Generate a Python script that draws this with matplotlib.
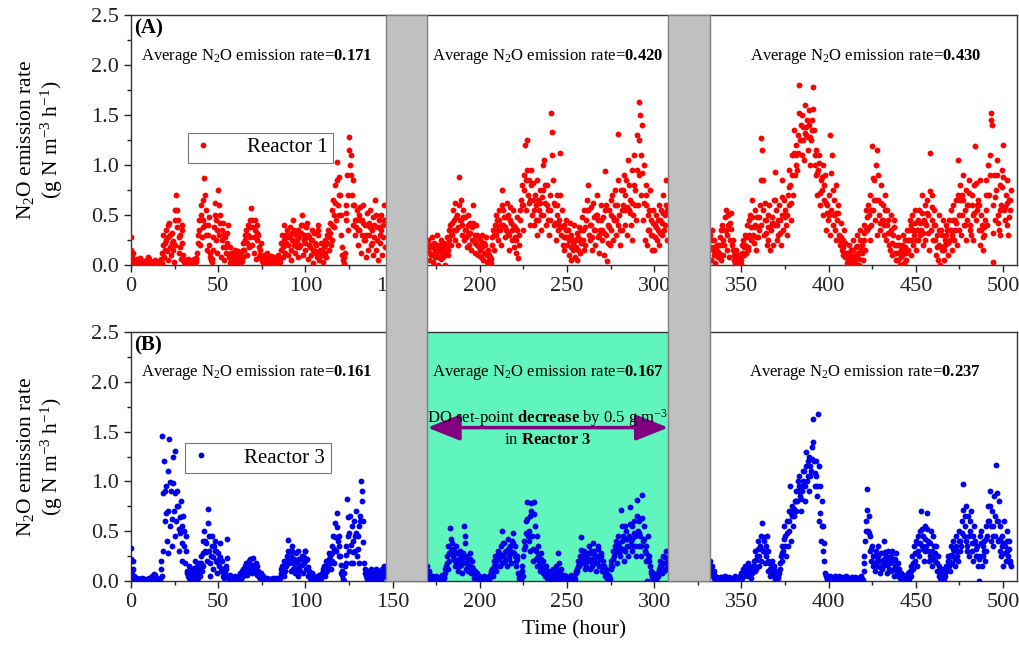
import numpy as np
import matplotlib
matplotlib.use('Agg')
import matplotlib.pyplot as plt
from matplotlib.patches import Rectangle
from matplotlib.transforms import blended_transform_factory
from matplotlib.ticker import MultipleLocator

plt.rcParams['font.family'] = 'Liberation Serif'
plt.rcParams['mathtext.fontset'] = 'custom'
plt.rcParams['mathtext.rm'] = 'Liberation Serif'
plt.rcParams['mathtext.it'] = 'Liberation Serif:italic'
plt.rcParams['mathtext.bf'] = 'Liberation Serif:bold'

# N2O emission rate, in units of 0.01 g N m-3 h-1.
# main lists: one value every half hour from the segment start hour
# *_b lists: one extra value per hour, at start + 0.25 h
seg_starts = [0, 170, 332]
gaps = [(146, 170), (308, 332)]

r1_seg1 = [
    28, 8, 12, 3, 2, 5, 0, 3, 4, 1, 7, 2, 3, 0, 1, 4, 2, 0, 3, 6,
    8, 2, 4, 1, 0, 3, 2, 5, 1, 0, 3, 2, 0, 4, 6, 2, 12, 30, 8, 22,
    35, 14, 28, 5, 42, 18, 10, 32, 24, 3, 55, 20, 70, 38, 45, 12, 30, 6, 22, 40,
    10, 3, 5, 1, 2, 6, 4, 0, 3, 5, 1, 4, 6, 2, 4, 7, 12, 30, 45, 20,
    60, 28, 38, 65, 87, 40, 55, 15, 30, 48, 20, 8, 5, 3, 15, 38, 62, 25, 45, 12,
    75, 30, 50, 8, 35, 18, 42, 5, 28, 12, 22, 40, 10, 2, 18, 6, 12, 3, 8, 15,
    5, 10, 3, 14, 6, 2, 12, 4, 8, 22, 15, 30, 35, 10, 40, 18, 28, 45, 57, 20,
    38, 12, 45, 6, 25, 40, 30, 8, 15, 22, 6, 3, 10, 2, 4, 8, 12, 1, 3, 6,
    2, 9, 5, 1, 8, 3, 1, 6, 10, 2, 4, 7, 15, 30, 8, 25, 40, 12, 22, 35,
    10, 28, 38, 15, 5, 32, 45, 20, 12, 30, 25, 8, 35, 18, 20, 40, 50, 10, 30, 22,
    15, 38, 42, 6, 28, 18, 10, 35, 25, 2, 32, 14, 20, 8, 30, 40, 5, 15, 22, 10,
    3, 18, 12, 25, 8, 30, 35, 15, 42, 20, 55, 25, 65, 38, 80, 45, 103, 60, 88, 50,
    70, 30, 18, 5, 2, 12, 45, 60, 90, 35, 128, 100, 110, 70, 85, 40, 60, 30, 45, 55,
    20, 50, 35, 58, 12, 45, 60, 25, 40, 8, 30, 52, 15, 42, 55, 20, 35, 10, 48, 28,
    65, 15, 38, 5, 45, 30, 22, 50, 10, 40, 60, 18]
r1_seg2 = [
    15, 25, 5, 20, 10, 28, 3, 18, 22, 8, 12, 30, 0, 15, 20, 6, 25, 12, 8, 22,
    0, 18, 28, 10, 15, 35, 40, 20, 30, 55, 45, 25, 62, 35, 50, 20, 88, 45, 65, 30,
    40, 55, 25, 48, 35, 18, 50, 30, 20, 42, 15, 38, 60, 25, 30, 12, 40, 20, 10, 28,
    25, 8, 18, 30, 5, 22, 12, 28, 3, 15, 0, 10, 8, 2, 20, 35, 15, 40, 30, 50,
    45, 25, 55, 35, 20, 60, 75, 40, 48, 28, 35, 62, 50, 15, 30, 58, 42, 25, 55, 18,
    38, 12, 25, 48, 7, 30, 45, 65, 80, 35, 60, 90, 120, 55, 125, 70, 85, 40, 65, 95,
    50, 82, 40, 70, 60, 30, 85, 45, 55, 75, 35, 68, 100, 50, 105, 62, 40, 80, 55, 30,
    70, 45, 152, 133, 85, 40, 60, 25, 50, 70, 35, 45, 112, 30, 55, 20, 40, 15, 28, 45,
    20, 35, 10, 42, 30, 5, 25, 15, 40, 8, 18, 32, 5, 28, 38, 12, 22, 48, 35, 15,
    55, 20, 45, 65, 80, 30, 25, 58, 40, 15, 62, 35, 20, 50, 70, 28, 45, 12, 35, 60,
    25, 48, 10, 55, 94, 30, 4, 40, 55, 20, 35, 65, 70, 25, 45, 75, 30, 60, 131, 40,
    50, 20, 75, 35, 60, 90, 40, 70, 85, 30, 105, 55, 65, 40, 95, 25, 50, 110, 75, 45,
    130, 60, 163, 90, 150, 70, 140, 45, 100, 25, 60, 80, 20, 50, 35, 75, 45, 15, 30, 55,
    15, 40, 50, 25, 35, 60, 20, 45, 55, 30, 70, 35, 40, 60, 85, 25]
r1_seg3 = [
    30, 5, 35, 15, 10, 25, 2, 18, 20, 8, 12, 28, 5, 35, 40, 10, 20, 48, 55, 15,
    30, 50, 8, 42, 52, 20, 25, 5, 10, 2, 15, 4, 3, 10, 8, 1, 5, 20, 25, 10,
    30, 12, 40, 18, 15, 45, 50, 25, 65, 30, 22, 55, 40, 15, 48, 28, 35, 60, 127, 40,
    115, 55, 30, 62, 45, 20, 25, 50, 60, 15, 35, 48, 20, 65, 93, 40, 55, 25, 30, 60,
    45, 20, 85, 50, 35, 65, 55, 40, 30, 70, 60, 95, 80, 45, 110, 70, 135, 90, 120, 100,
    95, 130, 180, 125, 140, 110, 150, 125, 105, 160, 130, 145, 115, 140, 155, 100, 125, 145, 178, 135,
    110, 90, 115, 70, 95, 110, 60, 85, 75, 100, 50, 80, 90, 35, 60, 45, 70, 30, 130, 55,
    110, 40, 65, 35, 80, 25, 45, 60, 30, 20, 42, 15, 25, 10, 35, 8, 12, 2, 5, 20,
    0, 10, 15, 3, 25, 5, 2, 18, 30, 8, 12, 0, 35, 15, 20, 5, 25, 40, 15, 55,
    35, 60, 50, 25, 70, 40, 119, 55, 85, 45, 100, 30, 115, 65, 50, 35, 80, 45, 60, 30,
    40, 70, 25, 55, 45, 20, 15, 50, 35, 10, 30, 45, 20, 5, 12, 28, 5, 20, 0, 15,
    10, 30, 2, 25, 18, 5, 35, 15, 25, 45, 10, 40, 50, 20, 30, 55, 15, 35, 45, 25,
    55, 30, 35, 70, 20, 45, 60, 25, 40, 65, 50, 15, 112, 35, 70, 45, 25, 55, 40, 10,
    30, 5, 50, 20, 0, 35, 15, 45, 5, 25, 20, 40, 35, 10, 45, 25, 55, 15, 30, 60,
    25, 45, 65, 20, 105, 35, 50, 80, 30, 70, 90, 40, 55, 25, 75, 45, 60, 85, 40, 30,
    70, 50, 25, 80, 119, 45, 55, 65, 35, 85, 20, 50, 40, 15, 30, 45, 55, 85, 40, 100,
    70, 110, 152, 140, 3, 60, 90, 45, 75, 105, 50, 35, 80, 30, 60, 95, 120, 55, 45, 70,
    85, 40, 30, 65, 55, 75]

r1_seg1_b = [
    15, 5, 2, 6, 3, 1, 4, 2, 0, 5, 6, 3, 2, 1, 4, 0, 2, 5, 20, 15,
    25, 40, 30, 22, 15, 45, 55, 28, 18, 35, 5, 2, 4, 1, 3, 0, 4, 6, 22, 35,
    50, 45, 70, 30, 40, 12, 6, 28, 50, 35, 60, 42, 25, 30, 18, 32, 8, 12, 5, 10,
    8, 6, 4, 10, 15, 25, 22, 30, 38, 45, 28, 35, 32, 18, 10, 4, 6, 3, 5, 2,
    4, 3, 5, 2, 6, 3, 22, 18, 30, 28, 20, 30, 25, 35, 22, 18, 28, 32, 40, 25,
    28, 30, 20, 25, 15, 22, 12, 35, 10, 15, 10, 20, 22, 28, 32, 40, 50, 62, 85, 70,
    50, 10, 8, 52, 70, 115, 90, 60, 45, 38, 35, 45, 30, 42, 25, 40, 30, 38, 22, 40,
    50, 25, 38, 35, 28, 45]
r1_seg2_b = [
    20, 12, 18, 10, 15, 20, 8, 15, 18, 14, 10, 20, 25, 30, 42, 35, 48, 38, 60, 45,
    48, 35, 28, 40, 32, 25, 42, 22, 30, 18, 15, 22, 12, 20, 10, 5, 6, 28, 30, 40,
    35, 45, 40, 55, 38, 48, 32, 45, 35, 40, 28, 35, 20, 55, 60, 75, 85, 95, 62, 80,
    65, 55, 45, 65, 62, 50, 75, 80, 60, 45, 55, 110, 62, 42, 60, 40, 70, 38, 28, 35,
    28, 25, 18, 22, 25, 25, 15, 25, 35, 25, 38, 55, 55, 40, 28, 48, 35, 50, 30, 45,
    35, 32, 60, 22, 38, 50, 48, 60, 45, 85, 35, 55, 75, 55, 58, 80, 52, 62, 80, 60,
    95, 125, 110, 92, 62, 70, 35, 55, 30, 42, 28, 38, 45, 32, 42, 52, 50, 55]
r1_seg3_b = [
    18, 25, 18, 10, 14, 20, 20, 25, 35, 35, 40, 25, 36, 15, 6, 10, 6, 4, 12, 18,
    20, 28, 30, 38, 48, 38, 28, 38, 48, 85, 85, 45, 32, 38, 38, 42, 42, 65, 40, 45,
    32, 68, 50, 48, 50, 78, 62, 90, 112, 110, 112, 152, 125, 138, 132, 138, 128, 128, 135, 156,
    100, 92, 102, 72, 88, 65, 62, 52, 50, 92, 75, 50, 52, 52, 25, 28, 18, 22, 8, 12,
    5, 9, 15, 10, 19, 6, 25, 12, 32, 35, 48, 38, 55, 87, 65, 65, 90, 42, 62, 45,
    55, 40, 32, 32, 22, 38, 12, 20, 12, 8, 20, 14, 12, 25, 35, 25, 35, 42, 25, 35,
    42, 52, 32, 42, 52, 32, 74, 58, 40, 25, 18, 35, 18, 30, 15, 30, 22, 35, 35, 45,
    35, 42, 70, 65, 50, 65, 40, 60, 72, 35, 60, 52, 82, 60, 60, 35, 28, 38, 70, 70,
    90, 145, 32, 68, 90, 42, 55, 78, 88, 58, 62, 48, 65]

r3_seg1 = [
    33, 10, 20, 2, 5, 1, 0, 3, 1, 0, 2, 1, 0, 3, 1, 2, 0, 1, 2, 0,
    1, 3, 0, 2, 5, 1, 7, 2, 6, 0, 3, 1, 1, 2, 20, 5, 146, 30, 120, 60,
    95, 40, 110, 28, 143, 55, 90, 35, 125, 70, 131, 45, 60, 90, 75, 30, 48, 80, 20, 55,
    65, 35, 18, 45, 10, 5, 3, 15, 8, 2, 12, 4, 6, 20, 2, 8, 15, 3, 18, 5,
    25, 10, 40, 15, 50, 30, 38, 20, 72, 45, 30, 5, 25, 45, 12, 35, 40, 20, 30, 8,
    28, 15, 38, 10, 20, 5, 12, 3, 8, 15, 42, 4, 2, 6, 1, 3, 4, 0, 2, 5,
    1, 3, 3, 0, 5, 8, 2, 10, 12, 5, 8, 15, 18, 6, 10, 20, 22, 12, 15, 8,
    23, 10, 12, 18, 6, 15, 10, 4, 3, 8, 2, 5, 1, 3, 0, 2, 3, 1, 2, 0,
    1, 2, 0, 3, 2, 1, 3, 0, 1, 2, 2, 4, 8, 15, 12, 5, 20, 10, 15, 25,
    41, 18, 30, 10, 25, 35, 12, 22, 8, 28, 20, 5, 30, 15, 10, 22, 25, 8, 18, 30,
    30, 12, 22, 5, 10, 3, 5, 8, 2, 6, 4, 1, 0, 3, 2, 5, 6, 1, 3, 8,
    8, 15, 12, 5, 20, 10, 15, 28, 25, 12, 35, 20, 45, 18, 58, 30, 68, 40, 45, 25,
    25, 8, 10, 2, 0, 15, 18, 35, 82, 45, 30, 65, 18, 55, 40, 18, 60, 30, 70, 25,
    45, 18, 55, 65, 100, 80, 60, 18, 12, 5, 8, 2, 10, 4, 3, 12, 6, 1, 10, 3,
    5, 12, 2, 8, 10, 3, 6, 1, 12, 4, 15, 8]
r3_seg2 = [
    15, 5, 10, 2, 3, 5, 1, 4, 2, 0, 5, 3, 1, 2, 4, 1, 3, 6, 2, 4,
    8, 15, 25, 12, 35, 20, 53, 30, 38, 25, 30, 15, 20, 35, 28, 10, 15, 30, 25, 8,
    18, 28, 55, 38, 12, 25, 22, 10, 15, 28, 8, 20, 12, 3, 6, 10, 4, 8, 2, 5,
    1, 4, 3, 0, 2, 5, 1, 3, 4, 2, 3, 0, 6, 10, 12, 5, 15, 25, 10, 20,
    22, 30, 28, 15, 35, 18, 50, 25, 38, 20, 30, 15, 42, 22, 25, 35, 18, 40, 48, 28,
    35, 15, 20, 25, 8, 3, 0, 1, 15, 5, 25, 40, 35, 60, 79, 45, 50, 30, 65, 78,
    45, 20, 79, 55, 30, 15, 45, 25, 20, 10, 28, 15, 8, 20, 12, 5, 15, 3, 5, 10,
    2, 6, 8, 1, 12, 3, 5, 15, 10, 2, 28, 8, 4, 12, 1, 3, 6, 0, 2, 5,
    3, 1, 0, 4, 2, 6, 1, 3, 5, 2, 8, 12, 10, 20, 15, 25, 44, 18, 22, 30,
    28, 12, 15, 25, 20, 35, 12, 28, 30, 15, 38, 22, 25, 10, 18, 32, 35, 15, 22, 28,
    10, 20, 15, 5, 8, 12, 3, 6, 5, 2, 12, 20, 15, 30, 25, 35, 40, 18, 30, 45,
    35, 25, 71, 40, 45, 20, 30, 55, 50, 35, 25, 45, 74, 40, 55, 30, 35, 60, 45, 25,
    81, 50, 35, 60, 45, 25, 86, 40, 55, 30, 35, 20, 0, 45, 25, 15, 10, 5, 3, 8,
    2, 6, 1, 4, 5, 12, 10, 20, 15, 8, 25, 10, 18, 30, 12, 22]
r3_seg3 = [
    20, 8, 15, 5, 10, 3, 5, 2, 3, 1, 2, 4, 1, 3, 4, 0, 2, 5, 3, 1,
    1, 3, 4, 2, 0, 3, 2, 1, 3, 5, 1, 2, 2, 4, 5, 1, 8, 3, 12, 5,
    15, 6, 10, 18, 5, 12, 14, 3, 8, 15, 20, 10, 30, 12, 25, 40, 15, 35, 45, 20,
    58, 30, 40, 18, 25, 45, 30, 10, 18, 5, 12, 20, 8, 15, 5, 2, 10, 4, 3, 8,
    12, 25, 20, 35, 30, 55, 45, 25, 60, 35, 70, 50, 95, 40, 75, 55, 65, 80, 90, 70,
    80, 100, 105, 85, 70, 95, 90, 110, 110, 80, 130, 100, 120, 90, 125, 105, 110, 135, 163, 120,
    95, 120, 105, 85, 168, 60, 95, 40, 80, 30, 55, 20, 8, 5, 3, 1, 2, 5, 4, 0,
    1, 3, 2, 5, 4, 1, 0, 3, 5, 2, 3, 1, 1, 4, 2, 0, 5, 3, 1, 2,
    3, 1, 2, 4, 0, 2, 4, 1, 2, 3, 1, 0, 3, 5, 2, 1, 10, 25, 40, 60,
    92, 50, 65, 30, 45, 20, 35, 15, 25, 10, 30, 20, 15, 35, 20, 8, 28, 12, 15, 22,
    40, 18, 25, 8, 30, 12, 18, 25, 10, 30, 20, 5, 15, 28, 8, 18, 5, 12, 3, 8,
    2, 6, 5, 1, 0, 3, 4, 8, 2, 10, 15, 5, 25, 12, 35, 20, 40, 15, 30, 45,
    25, 50, 70, 35, 45, 20, 55, 30, 35, 68, 40, 20, 25, 50, 30, 15, 45, 25, 20, 35,
    10, 25, 5, 15, 3, 8, 12, 2, 0, 5, 8, 15, 15, 25, 20, 10, 35, 18, 25, 40,
    30, 15, 45, 25, 20, 40, 50, 30, 35, 60, 97, 45, 55, 75, 40, 30, 65, 25, 50, 70,
    30, 45, 20, 55, 40, 25, 35, 15, 0, 45, 25, 50, 15, 35, 40, 20, 30, 55, 45, 75,
    60, 90, 40, 70, 35, 55, 85, 45, 116, 60, 40, 80, 30, 55, 25, 45, 15, 60, 35, 20,
    50, 30, 25, 40, 20, 15]

r3_seg1_b = [
    22, 12, 3, 2, 1, 2, 1, 2, 1, 1, 2, 1, 3, 4, 3, 2, 1, 12, 88, 90,
    68, 70, 99, 62, 98, 88, 75, 52, 64, 38, 50, 30, 8, 9, 5, 8, 13, 5, 9, 12,
    18, 28, 40, 29, 58, 18, 35, 24, 30, 19, 22, 24, 12, 8, 12, 23, 4, 2, 2, 3,
    2, 2, 6, 6, 8, 12, 12, 15, 17, 12, 16, 15, 10, 7, 5, 3, 2, 1, 2, 1,
    2, 2, 1, 2, 2, 3, 12, 8, 15, 20, 30, 20, 30, 17, 18, 12, 22, 16, 16, 24,
    21, 14, 6, 6, 4, 3, 2, 4, 4, 5, 12, 8, 15, 22, 18, 28, 32, 44, 54, 35,
    16, 6, 8, 26, 64, 48, 36, 29, 45, 48, 32, 60, 90, 39, 8, 5, 7, 8, 4, 6,
    8, 5, 6, 4, 8, 12]
r3_seg2_b = [
    10, 6, 4, 3, 1, 4, 2, 3, 4, 3, 12, 18, 28, 42, 32, 22, 28, 19, 22, 16,
    23, 45, 18, 16, 22, 14, 8, 8, 6, 4, 3, 2, 4, 2, 3, 2, 8, 9, 20, 15,
    26, 22, 26, 38, 29, 22, 32, 30, 29, 38, 25, 22, 6, 1, 10, 32, 48, 62, 40, 70,
    32, 67, 22, 35, 15, 22, 14, 9, 9, 8, 4, 5, 8, 10, 6, 18, 8, 2, 3, 4,
    2, 2, 4, 2, 4, 10, 15, 20, 31, 26, 20, 20, 28, 20, 22, 30, 18, 25, 25, 25,
    15, 10, 10, 5, 4, 16, 22, 30, 29, 38, 30, 55, 32, 42, 42, 35, 57, 42, 48, 35,
    65, 48, 35, 63, 42, 28, 22, 20, 8, 6, 4, 3, 8, 15, 12, 18, 24, 17]
r3_seg3_b = [
    14, 10, 6, 4, 2, 3, 2, 2, 4, 2, 2, 3, 2, 2, 4, 2, 3, 3, 6, 8,
    10, 14, 8, 8, 12, 15, 21, 32, 25, 32, 44, 29, 35, 20, 12, 16, 12, 4, 7, 5,
    18, 28, 42, 35, 48, 60, 68, 65, 72, 80, 90, 95, 82, 100, 95, 115, 105, 115, 122, 140,
    108, 95, 115, 68, 55, 38, 6, 2, 3, 2, 2, 3, 2, 2, 3, 2, 2, 1, 4, 2,
    2, 3, 1, 2, 2, 1, 4, 2, 18, 50, 71, 48, 32, 25, 18, 25, 25, 14, 20, 18,
    29, 16, 21, 22, 20, 12, 22, 13, 8, 5, 4, 3, 2, 6, 6, 10, 18, 28, 28, 38,
    38, 52, 32, 42, 52, 30, 38, 22, 35, 28, 18, 10, 5, 7, 3, 12, 20, 15, 26, 32,
    22, 35, 30, 40, 48, 71, 65, 35, 45, 60, 38, 38, 32, 25, 22, 38, 25, 30, 42, 60,
    75, 55, 45, 65, 88, 60, 42, 35, 38, 28, 40, 32, 18]

avg_r1 = ['0.171', '0.420', '0.430']
avg_r3 = ['0.161', '0.167', '0.237']
avg_x = [72, 239, 421]


def series(segs, extra):
    xs, ys = [], []
    for start, vals, more in zip(seg_starts, segs, extra):
        xs.append(start + 0.5 * np.arange(len(vals)))
        ys.append(np.array(vals) / 100.0)
        xs.append(start + 0.25 + np.arange(len(more)))
        ys.append(np.array(more) / 100.0)
    return np.concatenate(xs), np.concatenate(ys)


fig = plt.figure(figsize=(10.19, 6.51), dpi=100)
ax1 = fig.add_axes([131/1019, 1-265/651, 886/1019, 250/651])
ax2 = fig.add_axes([131/1019, 1-581/651, 886/1019, 249/651])

panels = [(ax1, [r1_seg1, r1_seg2, r1_seg3], [r1_seg1_b, r1_seg2_b, r1_seg3_b],
           'red', 'Reactor 1', '(A)', avg_r1, 0.064, 0.53),
          (ax2, [r3_seg1, r3_seg2, r3_seg3], [r3_seg1_b, r3_seg2_b, r3_seg3_b],
           '#0000EE', 'Reactor 3', '(B)', avg_r3, 0.061, 0.555)]

for ax, segs, extra, col, lab, tag, avgs, lx, ly in panels:
    x, y = series(segs, extra)
    ax.plot(x, y, 'o', ms=4.2, color=col, mew=0, label=lab, zorder=3)
    ax.set_xlim(0, 508)
    ax.set_ylim(0, 2.5)
    ax.set_xticks(range(0, 501, 50))
    ax.xaxis.set_minor_locator(MultipleLocator(25))
    ax.set_yticks(np.arange(0, 2.51, 0.5))
    ax.set_yticklabels(['%.1f' % v for v in np.arange(0, 2.51, 0.5)])
    ax.yaxis.set_minor_locator(MultipleLocator(0.25))
    ax.tick_params(which='major', direction='out', length=5, width=1, labelsize=16, colors='#222222')
    ax.tick_params(which='minor', direction='out', length=3, width=1, colors='#222222')
    for s in ax.spines.values():
        s.set_color('#333333')
        s.set_linewidth(1)
    ax.set_ylabel('N$_2$O emission rate\n(g N m$^{-3}$ h$^{-1}$)', fontsize=15.5, linespacing=1.1)
    ax.yaxis.set_label_coords(-0.075, 0.5)
    ax.text(0.004, 0.985, tag, transform=ax.transAxes, ha='left', va='top',
            fontsize=15, fontweight='bold')
    for xa, v in zip(avg_x, avgs):
        ax.text(xa, 2.09, 'Average N$_2$O emission rate=$\\mathbf{%s}$' % v,
                ha='center', va='center', fontsize=12)
    leg = ax.legend(loc='upper left', bbox_to_anchor=(lx, ly), borderaxespad=0,
                    numpoints=1, fontsize=15, fancybox=False, handlelength=1.0,
                    handletextpad=1.6, borderpad=0.25, markerscale=1.0)
    leg.get_frame().set_edgecolor('#555555')
    leg.get_frame().set_linewidth(0.8)

# DO set-point decrease period in reactor 3
ax2.axvspan(170, 308, color='#60F5BC', zorder=0, lw=0)
ax2.annotate('', xy=(170, 1.54), xytext=(308, 1.54),
             arrowprops=dict(arrowstyle='<|-|>,head_length=1.0,head_width=0.4',
                             color='#800080', lw=2.5, mutation_scale=20,
                             shrinkA=0, shrinkB=0), zorder=4)
ax2.text(239, 1.64, 'DO set-point $\\mathbf{decrease}$ by 0.5 g m$^{-3}$',
         ha='center', va='center', fontsize=12, zorder=5)
ax2.text(239, 1.42, 'in $\\mathbf{Reactor\\ 3}$', ha='center', va='center', fontsize=12, zorder=5)
ax2.set_xlabel('Time (hour)', fontsize=15.5, labelpad=6)

# grey bars for the gaps, spanning both panels
trans = blended_transform_factory(ax1.transData, fig.transFigure)
for a, b in gaps:
    fig.add_artist(Rectangle((a, 1-581/651), b-a, (581-15)/651, transform=trans,
                             facecolor='#C0C0C0', edgecolor='#7F7F7F', lw=1, zorder=5))

fig.savefig('out.png', dpi=100)
